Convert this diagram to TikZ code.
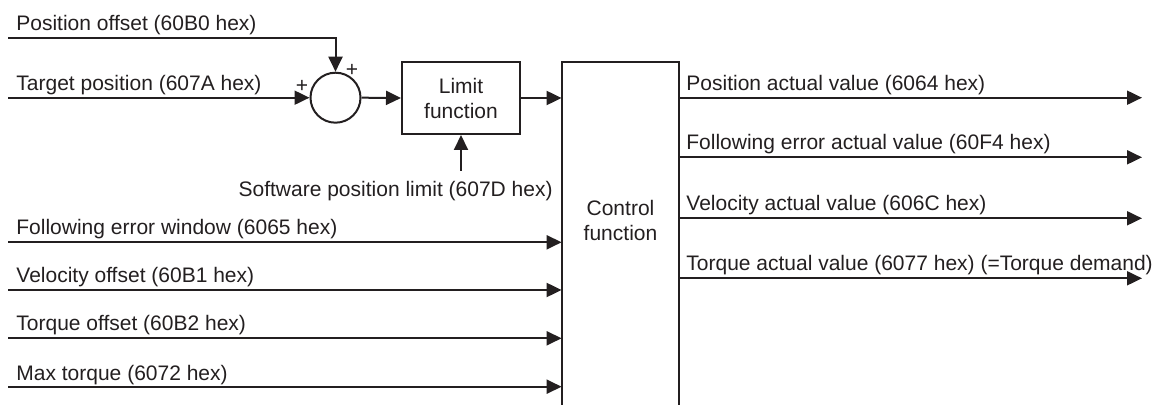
\documentclass[tikz,border=0pt]{standalone}
\usepackage{fontspec}
\setmainfont{Liberation Sans}
\usetikzlibrary{arrows.meta}
\definecolor{ink}{HTML}{231F20}

\begin{document}
\begin{tikzpicture}[x=0.5pt,y=-0.5pt,
 sig/.style={-{Triangle[length=7.5pt,width=7pt]},draw=ink,line width=1pt},
 blk/.style={rectangle,draw=ink,line width=1pt,inner sep=0pt,align=center},
 sumnode/.style={circle,draw=ink,line width=1pt,minimum size=25pt,inner sep=0pt},
 lab/.style={font=\fontsize{10.5}{12.5}\selectfont,text=ink,inner sep=0pt}
]
\useasboundingbox (0,0) rectangle (1166,405);

% blocks
\node[sumnode] (sum) at (335.5,97.7) {};
\node[blk,lab,minimum width=59pt,minimum height=36pt] (limit) at (461,98) {Limit\\function};
\node[inner sep=0pt,minimum width=58.5pt,minimum height=171.5pt] (ctrl) at (620.5,233.5) {};
\draw[ink,line width=1pt] (ctrl.south west) -- (ctrl.north west) -- (ctrl.north east) -- (ctrl.south east);
\node[lab,align=center] (ctrltxt) at (620.5,220.5) {Control\\function};

% free ends
\coordinate (pofs) at (8,37.7);
\coordinate (tpos) at (8,97.7);
\coordinate (swl) at (461,170.7);
\coordinate (in1) at (8,242.3);
\coordinate (in2) at (8,290);
\coordinate (in3) at (8,338.3);
\coordinate (in4) at (8,386.7);
\coordinate (out1) at (1142,97.7);
\coordinate (out2) at (1142,157.3);
\coordinate (out3) at (1142,218.3);
\coordinate (out4) at (1142,278.3);

% signals
\draw[sig] (pofs) -- (pofs -| sum) -- (sum.north);
\draw[sig] (tpos) -- (sum.west);
\draw[sig] (sum.east) -- (limit.west);
\draw[sig] (limit.east) -- (limit.east -| ctrl.west);
\draw[sig] (swl) -- (limit.south);
\foreach \i in {1,...,4}
 \draw[sig] (in\i) -- (in\i -| ctrl.west);
\foreach \i in {1,...,4}
 \draw[sig] (out\i -| ctrl.east) -- (out\i);

% labels
\node[lab] (plus1) at (352,70) {+};
\node[lab] (plus2) at (302,86) {+};
\node[lab,anchor=base west] (lpofs) at (16,31) {Position offset (60B0 hex)};
\node[lab,anchor=base west] (ltpos) at (16,91) {Target position (607A hex)};
\node[lab,anchor=base east] (lswl) at (553,197) {Software position limit (607D hex)};
\node[lab,anchor=base west] (lin1) at (16,235) {Following error window (6065 hex)};
\node[lab,anchor=base west] (lin2) at (16,283) {Velocity offset (60B1 hex)};
\node[lab,anchor=base west] (lin3) at (16,331) {Torque offset (60B2 hex)};
\node[lab,anchor=base west] (lin4) at (16,380) {Max torque (6072 hex)};
\node[lab,anchor=base west] (lout1) at (686,91) {Position actual value (6064 hex)};
\node[lab,anchor=base west] (lout2) at (686,150) {Following error actual value (60F4 hex)};
\node[lab,anchor=base west] (lout3) at (686,211) {Velocity actual value (606C hex)};
\node[lab,anchor=base west] (lout4) at (686,271) {Torque actual value (6077 hex) (=Torque demand)};
\end{tikzpicture}
\end{document}
